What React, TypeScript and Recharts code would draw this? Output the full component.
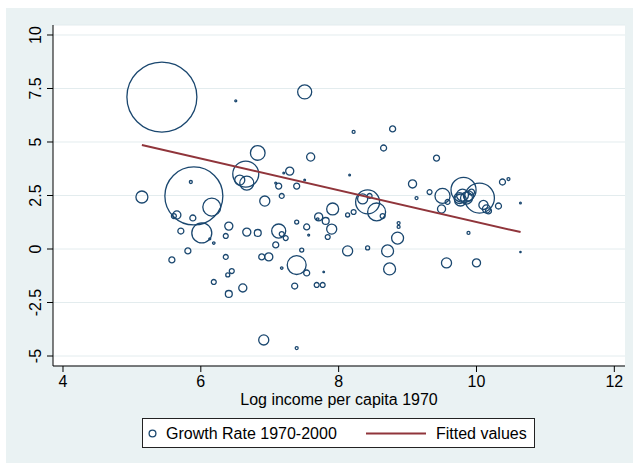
import React from 'react';
import { ScatterChart, Scatter, XAxis, YAxis, ZAxis, CartesianGrid, Label } from 'recharts';

// Log GDP per capita in 1970 (x), growth 1970-2000 in % (y), population in millions (marker weight)
const logIncome = [
  5.435, 6.507, 7.507, 6.826, 7.594, 6.652, 6.565, 6.667, 5.145, 5.899,
  5.855, 6.159, 5.652, 5.609, 5.884, 5.71, 6.014, 6.406, 6.362, 6.667,
  6.826, 7.13, 7.174, 7.232, 7.087, 7.13, 7.174, 7.29, 7.203, 7.391,
  7.507, 7.391, 7.536, 7.71, 7.696, 6.928, 7.913, 8.13, 8.217, 7.812,
  7.899, 7.565, 7.841, 7.087, 6.188, 6.13, 7.464, 8.13, 6.362, 6.884,
  6.986, 7.391, 7.174, 7.536, 7.783, 6.449, 6.391, 6.188, 6.609, 6.406,
  7.362, 7.681, 7.768, 5.812, 5.58, 6.913, 7.391, 8.42, 8.348, 8.551,
  8.638, 8.449, 8.42, 8.71, 8.739, 8.217, 8.783, 8.652, 8.159, 9.072,
  9.319, 9.13, 9.42, 9.507, 9.58, 9.493, 8.87, 8.87, 8.855, 9.565,
  10.0, 9.884, 9.812, 10.043, 9.754, 9.797, 9.884, 9.855, 9.768, 9.928,
  10.101, 10.145, 10.174, 10.319, 10.377, 10.464, 10.638, 10.638,
];

const growthRate = [
  7.1, 6.92, 7.34, 4.49, 4.3, 3.5, 3.22, 3.08, 2.43, 2.48,
  3.13, 1.96, 1.59, 1.54, 1.45, 0.84, 0.75, 1.07, 0.61, 0.79,
  0.75, 0.84, 0.7, 0.51, 3.08, 2.94, 2.48, 3.64, 3.55, 2.94,
  3.22, 1.26, 1.03, 1.5, 1.4, 2.24, 1.87, 1.59, 1.73, 1.31,
  0.93, 0.65, 0.56, 0.19, 0.28, 0.47, -0.05, -0.09, -0.37, -0.37,
  -0.37, -0.75, -0.89, -1.12, -1.07, -1.03, -1.21, -1.54, -1.82, -2.1,
  -1.73, -1.68, -1.68, -0.09, -0.51, -4.25, -4.63, 2.2, 2.34, 1.73,
  1.54, 2.48, 0.05, -0.09, -0.93, 5.47, 5.61, 4.72, 3.46, 3.04,
  2.66, 2.38, 4.25, 2.48, 2.2, 1.87, 1.21, 1.03, 0.51, -0.65,
  -0.65, 0.75, 2.76, 2.38, 2.38, 2.52, 2.48, 2.38, 2.29, 2.66,
  2.06, 1.87, 1.78, 2.01, 3.13, 3.27, 2.15, -0.14,
];

const population = [
  820, 0.6, 33, 36, 11, 113, 17, 33, 24, 563,
  1.5, 54, 11, 4, 6, 6, 67, 11, 4, 11,
  8, 33, 4, 4, 0.6, 6, 4, 11, 0.5, 6,
  0.5, 2.7, 6, 11, 1, 17, 24, 2.7, 4, 8,
  17, 0.6, 4, 6, 1, 0.6, 2.7, 17, 4, 6,
  11, 60, 1, 6, 0.4, 4, 2.7, 4, 11, 8,
  6, 4, 4, 6, 6, 17, 1.5, 96, 17, 54,
  4, 4, 2.7, 24, 24, 1.5, 6, 6, 0.5, 11,
  4, 1.5, 6, 38, 4, 11, 1.5, 1.5, 24, 17,
  11, 1.5, 105, 150, 20, 24, 17, 24, 24, 6,
  14, 11, 6, 6, 6, 1.5, 0.5, 0.3,
];

// End points of the fitted regression line
const fittedX = [5.145, 10.64];
const fittedY = [4.86, 0.79];

const xTicks = [4, 6, 8, 10, 12];
const yTicks = [-5, -2.5, 0, 2.5, 5, 7.5, 10];
const yTickLabels = ['-5', '-2.5', '0', '2.5', '5', '7.5', '10'];

const xTitle = 'Log income per capita 1970';
const scatterName = 'Growth Rate 1970-2000';
const lineName = 'Fitted values';

const NAVY = '#1A476F';
const MAROON = '#90353B';
const BG = '#EAF2F3';
const FONT = '"Liberation Sans", Arial, sans-serif';

const points = logIncome.map((x, i) => ({ x, y: growthRate[i], pop: population[i] }));
const fitted = fittedX.map((x, i) => ({ x, y: fittedY[i] }));

const YTick = (props: any) => {
  const { y, payload } = props;
  const idx = yTicks.indexOf(payload.value);
  const label = idx >= 0 ? yTickLabels[idx] : String(payload.value);
  const tx = 41;
  return (
    <text
      x={tx}
      y={y}
      transform={`rotate(-90 ${tx} ${y})`}
      textAnchor="middle"
      fill="#000"
      fontSize={16}
      fontFamily={FONT}
    >
      {label}
    </text>
  );
};

const EmptyShape = () => <g />;

export default function App() {
  return (
    <div
      style={{
        position: 'absolute',
        left: 0,
        top: 0,
        width: 633,
        height: 463,
        background: '#fff',
        overflow: 'hidden',
        fontFamily: FONT,
      }}
    >
      <div
        style={{ position: 'absolute', left: 6, top: 8, width: 627, height: 455, background: BG }}
      />
      <div style={{ position: 'absolute', left: 53, top: 25, width: 572, height: 341, background: '#fff' }} />
      <div style={{ position: 'absolute', left: 0, top: 0 }}>
        <ScatterChart width={633} height={463} margin={{ top: 25, right: 8, bottom: 0, left: 0 }}>
          <CartesianGrid horizontal vertical={false} stroke="#E3ECEE" strokeWidth={1} />
          <XAxis
            type="number"
            dataKey="x"
            domain={[3.855, 12.155]}
            ticks={xTicks}
            allowDataOverflow
            height={97}
            tickSize={6}
            tickMargin={4}
            stroke="#000"
            tick={{ fill: '#000', fontSize: 16, fontFamily: FONT }}
            tickLine={{ stroke: '#000' }}
          >
            <Label
              value={xTitle}
              position="insideBottom"
              offset={58}
              fill="#000"
              fontSize={16}
              fontFamily={FONT}
            />
          </XAxis>
          <YAxis
            type="number"
            dataKey="y"
            domain={[-5.467, 10.467]}
            ticks={yTicks}
            allowDataOverflow
            width={53}
            tickSize={6}
            stroke="#000"
            tick={<YTick />}
            tickLine={{ stroke: '#000' }}
          />
          <ZAxis type="number" dataKey="pop" domain={[0, 1000]} range={[0, 4690]} />
          <Scatter
            name={scatterName}
            data={points}
            shape="circle"
            fill="none"
            stroke={NAVY}
            strokeWidth={1.3}
            isAnimationActive={false}
          />
          <Scatter
            name={lineName}
            data={fitted}
            line={{ stroke: MAROON, strokeWidth: 2 }}
            shape={EmptyShape}
            isAnimationActive={false}
          />
        </ScatterChart>
      </div>
      {/* legend */}
      <div
        style={{
          position: 'absolute',
          left: 142,
          top: 418,
          width: 391,
          height: 28,
          border: '1px solid #222',
          background: '#fff',
          fontSize: 16,
          color: '#000',
        }}
      >
        <svg width={391} height={28} style={{ position: 'absolute', left: 0, top: 0 }}>
          <circle cx={9.5} cy={14.5} r={3.4} fill="none" stroke={NAVY} strokeWidth={1.3} />
          <line x1={223} x2={283} y1={14.5} y2={14.5} stroke={MAROON} strokeWidth={2} />
          <text x={23} y={20} fontSize={16} fontFamily={FONT} fill="#000">
            {scatterName}
          </text>
          <text x={293} y={20} fontSize={16} fontFamily={FONT} fill="#000">
            {lineName}
          </text>
        </svg>
      </div>
    </div>
  );
}
